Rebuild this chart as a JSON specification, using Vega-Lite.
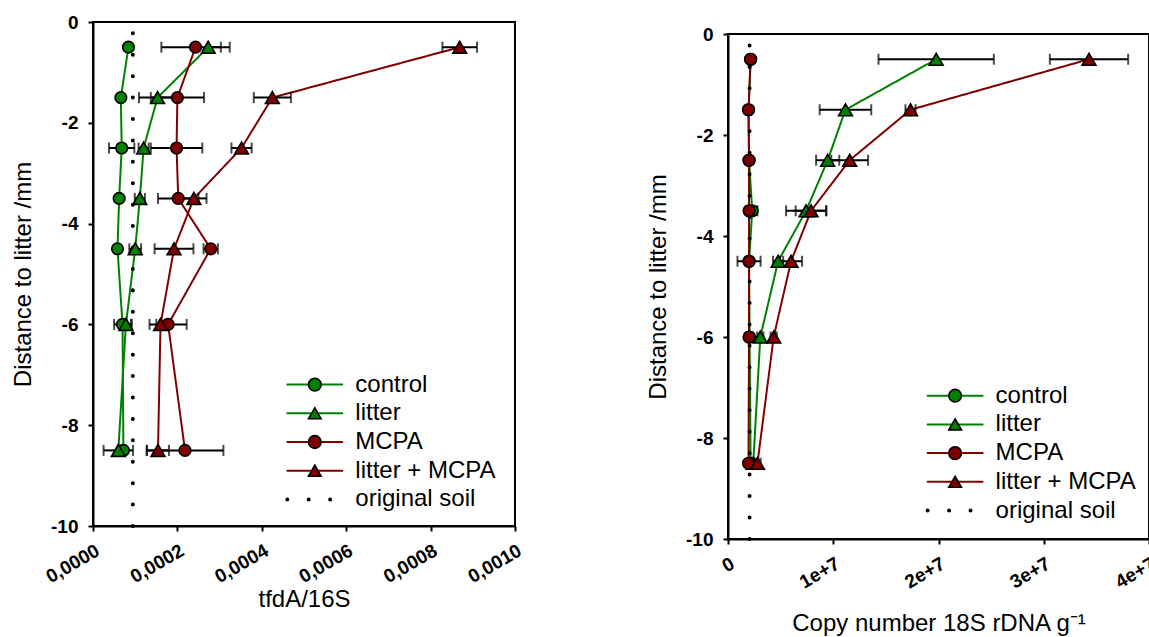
{
  "$schema": "https://vega.github.io/schema/vega-lite/v6.json",
  "background": "white",
  "padding": {"left": 10, "top": 12, "right": 0, "bottom": 0},
  "config": {
    "font": "Liberation Sans",
    "view": {"stroke": "black", "strokeWidth": 2},
    "axis": {
      "domainColor": "black", "domainWidth": 2, "tickColor": "black", "tickWidth": 2, "tickSize": 5,
      "grid": false, "labelFont": "Liberation Sans", "labelFontWeight": "bold", "labelFontSize": 19,
      "labelColor": "black", "labelPadding": 10, "titleFont": "Liberation Sans", "titleFontWeight": "normal",
      "titleFontSize": 24, "titleColor": "black"
    },
    "legend": {"labelFont": "Liberation Sans", "labelFontSize": 24, "labelColor": "black", "padding": 0, "rowPadding": 4.7},
    "concat": {"spacing": 119}
  },
  "resolve": {
    "scale": {"stroke": "independent", "strokeDash": "independent", "fill": "independent", "shape": "independent"},
    "legend": {"stroke": "independent", "strokeDash": "independent", "fill": "independent", "shape": "independent"}
  },
  "hconcat": [
    {
      "width": 422,
      "height": 504,
      "data": {"values": [
        {"series": "control", "depth": -0.5, "value": 0.000084, "err": 0.000003},
        {"series": "control", "depth": -1.5, "value": 0.000066, "err": 0.000003},
        {"series": "control", "depth": -2.5, "value": 0.000068, "err": 0.00003},
        {"series": "control", "depth": -3.5, "value": 0.000062, "err": 0.000004},
        {"series": "control", "depth": -4.5, "value": 0.000058, "err": 0.000004},
        {"series": "control", "depth": -6, "value": 0.00007, "err": 0.00002},
        {"series": "control", "depth": -8.5, "value": 0.000072, "err": 0.000005},
        {"series": "litter", "depth": -0.5, "value": 0.000273, "err": 0.00003},
        {"series": "litter", "depth": -1.5, "value": 0.000153, "err": 0.000044},
        {"series": "litter", "depth": -2.5, "value": 0.00012, "err": 0.000012},
        {"series": "litter", "depth": -3.5, "value": 0.000111, "err": 0.000012},
        {"series": "litter", "depth": -4.5, "value": 0.0001, "err": 0.000014},
        {"series": "litter", "depth": -6, "value": 0.000078, "err": 0.000014},
        {"series": "litter", "depth": -8.5, "value": 0.00006, "err": 0.000035},
        {"series": "MCPA", "depth": -0.5, "value": 0.000243, "err": 0.000081},
        {"series": "MCPA", "depth": -1.5, "value": 0.0002, "err": 0.000063},
        {"series": "MCPA", "depth": -2.5, "value": 0.000198, "err": 0.000061},
        {"series": "MCPA", "depth": -3.5, "value": 0.000202, "err": 0.000048},
        {"series": "MCPA", "depth": -4.5, "value": 0.000279, "err": 0.000017},
        {"series": "MCPA", "depth": -6, "value": 0.000178, "err": 0.000044},
        {"series": "MCPA", "depth": -8.5, "value": 0.000218, "err": 0.000091},
        {"series": "litter + MCPA", "depth": -0.5, "value": 0.000869, "err": 0.000041},
        {"series": "litter + MCPA", "depth": -1.5, "value": 0.000425, "err": 0.000044},
        {"series": "litter + MCPA", "depth": -2.5, "value": 0.000352, "err": 0.000024},
        {"series": "litter + MCPA", "depth": -3.5, "value": 0.000239, "err": 0.00003},
        {"series": "litter + MCPA", "depth": -4.5, "value": 0.000192, "err": 0.000046},
        {"series": "litter + MCPA", "depth": -6, "value": 0.00016, "err": 0.00001},
        {"series": "litter + MCPA", "depth": -8.5, "value": 0.000154, "err": 0.000026},
        {"series": "original soil", "depth": -10, "value": 0.0000944},
        {"series": "original soil", "depth": 0, "value": 0.0000944}
      ]},
      "encoding": {
        "x": {"field": "value", "type": "quantitative", "scale": {"domain": [0, 0.001], "nice": false},
          "axis": {"values": [0, 0.0002, 0.0004, 0.0006, 0.0008, 0.001], "labelExpr": "replace(format(datum.value, '.4f'), '.', ',')",
            "labelAngle": -30, "title": "tfdA/16S", "titlePadding": 1}},
        "y": {"field": "depth", "type": "quantitative", "scale": {"domain": [-10, 0], "nice": false},
          "axis": {"values": [0, -2, -4, -6, -8, -10], "labelExpr": "datum.value + ''", "title": "Distance to litter /mm", "titlePadding": 15}}
      },
      "layer": [
        {
          "mark": {"type": "line", "strokeCap": "round"},
          "encoding": {
            "order": {"field": "depth", "type": "quantitative"},
            "stroke": {"field": "series", "type": "nominal",
              "scale": {"domain": ["control", "litter", "MCPA", "litter + MCPA", "original soil"], "range": ["#008000", "#008000", "#800000", "#800000", "black"]},
              "legend": {"orient": "none", "legendX": 209.8, "legendY": 350.6, "title": null, "symbolType": "M-2.5,0L2.5,0", "symbolSize": 484,
                "symbolStrokeWidth": 2, "labelOffset": 28.5,
                "encoding": {"symbols": {"strokeCap": {"value": "round"}, "strokeWidth": {"value": {"expr": "datum.value === 'original soil' ? 4 : 2"}}}}}},
            "strokeDash": {"field": "series", "type": "nominal",
              "scale": {"domain": ["control", "litter", "MCPA", "litter + MCPA", "original soil"], "range": [[1, 0], [1, 0], [1, 0], [1, 0], [0.01, 21.41]]}},
            "strokeWidth": {"condition": {"test": "datum.series === 'original soil'", "value": 4}, "value": 2}
          }
        },
        {
          "transform": [{"filter": "datum.series !== 'original soil'"}],
          "mark": {"type": "errorbar", "color": "black", "thickness": 2, "ticks": {"size": 11, "thickness": 2, "color": "black"}},
          "encoding": {"xError": {"field": "err"}}
        },
        {
          "transform": [{"filter": "datum.series !== 'original soil'"}],
          "mark": {"type": "point", "filled": true, "opacity": 1, "stroke": "black", "strokeWidth": 1.6},
          "encoding": {
            "fill": {"field": "series", "type": "nominal",
              "scale": {"domain": ["control", "litter", "MCPA", "litter + MCPA"], "range": ["#008000", "#008000", "#800000", "#800000"]},
              "legend": {"orient": "none", "legendX": 209.8, "legendY": 350.6, "title": null, "symbolStrokeColor": "black", "symbolStrokeWidth": 1.6,
                "symbolSize": 160, "symbolOpacity": 1, "labelOpacity": 0, "labelOffset": 28.5}},
            "shape": {"field": "series", "type": "nominal",
              "scale": {"domain": ["control", "litter", "MCPA", "litter + MCPA"], "range": ["circle", "triangle-up", "circle", "triangle-up"]}},
            "size": {"condition": {"test": "datum.series === 'control' || datum.series === 'MCPA'", "value": 135}, "value": 190}
          }
        }
      ]
    },
    {
      "spacing": 0,
      "resolve": {
        "scale": {"stroke": "independent", "strokeDash": "independent", "fill": "independent", "shape": "independent"},
        "legend": {"stroke": "independent", "strokeDash": "independent", "fill": "independent", "shape": "independent"}
      },
      "vconcat": [
        {
          "width": 421,
          "height": 2,
          "view": {"stroke": null},
          "data": {"values": []},
          "mark": "point"
        },
        {
          "width": 421,
          "height": 505,
          "data": {"values": [
            {"series": "control", "depth": -0.5, "value": 2150000, "err": 150000},
            {"series": "control", "depth": -1.5, "value": 1950000, "err": 150000},
            {"series": "control", "depth": -2.5, "value": 2000000, "err": 150000},
            {"series": "control", "depth": -3.5, "value": 2300000, "err": 500000},
            {"series": "control", "depth": -4.5, "value": 2000000, "err": 1100000},
            {"series": "control", "depth": -6, "value": 2050000, "err": 300000},
            {"series": "control", "depth": -8.5, "value": 2150000, "err": 200000},
            {"series": "litter", "depth": -0.5, "value": 19780000, "err": 5480000},
            {"series": "litter", "depth": -1.5, "value": 11160000, "err": 2450000},
            {"series": "litter", "depth": -2.5, "value": 9470000, "err": 1100000},
            {"series": "litter", "depth": -3.5, "value": 7420000, "err": 1900000},
            {"series": "litter", "depth": -4.5, "value": 4760000, "err": 480000},
            {"series": "litter", "depth": -6, "value": 3070000, "err": 300000},
            {"series": "litter", "depth": -8.5, "value": 2400000, "err": 200000},
            {"series": "MCPA", "depth": -0.5, "value": 2150000, "err": 150000},
            {"series": "MCPA", "depth": -1.5, "value": 1950000, "err": 150000},
            {"series": "MCPA", "depth": -2.5, "value": 2000000, "err": 150000},
            {"series": "MCPA", "depth": -3.5, "value": 2000000, "err": 200000},
            {"series": "MCPA", "depth": -4.5, "value": 2000000, "err": 300000},
            {"series": "MCPA", "depth": -6, "value": 2000000, "err": 200000},
            {"series": "MCPA", "depth": -8.5, "value": 1950000, "err": 150000},
            {"series": "litter + MCPA", "depth": -0.5, "value": 34300000, "err": 3720000},
            {"series": "litter + MCPA", "depth": -1.5, "value": 17340000, "err": 480000},
            {"series": "litter + MCPA", "depth": -2.5, "value": 11560000, "err": 1750000},
            {"series": "litter + MCPA", "depth": -3.5, "value": 7890000, "err": 1460000},
            {"series": "litter + MCPA", "depth": -4.5, "value": 5990000, "err": 1050000},
            {"series": "litter + MCPA", "depth": -6, "value": 4340000, "err": 300000},
            {"series": "litter + MCPA", "depth": -8.5, "value": 2800000, "err": 300000},
            {"series": "original soil", "depth": -10, "value": 2050000},
            {"series": "original soil", "depth": 0, "value": 2050000}
          ]},
          "encoding": {
            "x": {"field": "value", "type": "quantitative", "scale": {"domain": [0, 40000000], "nice": false},
              "axis": {"values": [0, 10000000, 20000000, 30000000, 40000000], "labelExpr": "datum.value == 0 ? '0' : (datum.value / 10000000) + 'e+7'",
                "labelAngle": -30, "title": "Copy number 18S rDNA g⁻¹", "titlePadding": 20}},
            "y": {"field": "depth", "type": "quantitative", "scale": {"domain": [-10, 0], "nice": false},
              "axis": {"values": [0, -2, -4, -6, -8, -10], "labelExpr": "datum.value + ''", "title": "Distance to litter /mm", "titlePadding": 15}}
          },
          "layer": [
            {
              "mark": {"type": "line", "strokeCap": "round"},
              "encoding": {
                "order": {"field": "depth", "type": "quantitative"},
                "stroke": {"field": "series", "type": "nominal",
                  "scale": {"domain": ["control", "litter", "MCPA", "litter + MCPA", "original soil"], "range": ["#008000", "#008000", "#800000", "#800000", "black"]},
                  "legend": {"orient": "none", "legendX": 215.1, "legendY": 349.7, "title": null, "symbolType": "M-2.5,0L2.5,0", "symbolSize": 484,
                    "symbolStrokeWidth": 2, "labelOffset": 28.5,
                    "encoding": {"symbols": {"strokeCap": {"value": "round"}, "strokeWidth": {"value": {"expr": "datum.value === 'original soil' ? 4 : 2"}}}}}},
                "strokeDash": {"field": "series", "type": "nominal",
                  "scale": {"domain": ["control", "litter", "MCPA", "litter + MCPA", "original soil"], "range": [[1, 0], [1, 0], [1, 0], [1, 0], [0.01, 21.45]]}},
                "strokeWidth": {"condition": {"test": "datum.series === 'original soil'", "value": 4}, "value": 2}
              }
            },
            {
              "transform": [{"filter": "datum.series !== 'original soil'"}],
              "mark": {"type": "errorbar", "color": "black", "thickness": 2, "ticks": {"size": 11, "thickness": 2, "color": "black"}},
              "encoding": {"xError": {"field": "err"}}
            },
            {
              "transform": [{"filter": "datum.series !== 'original soil'"}],
              "mark": {"type": "point", "filled": true, "opacity": 1, "stroke": "black", "strokeWidth": 1.6},
              "encoding": {
                "fill": {"field": "series", "type": "nominal",
                  "scale": {"domain": ["control", "litter", "MCPA", "litter + MCPA"], "range": ["#008000", "#008000", "#800000", "#800000"]},
                  "legend": {"orient": "none", "legendX": 215.1, "legendY": 349.7, "title": null, "symbolStrokeColor": "black", "symbolStrokeWidth": 1.6,
                    "symbolSize": 160, "symbolOpacity": 1, "labelOpacity": 0, "labelOffset": 28.5}},
                "shape": {"field": "series", "type": "nominal",
                  "scale": {"domain": ["control", "litter", "MCPA", "litter + MCPA"], "range": ["circle", "triangle-up", "circle", "triangle-up"]}},
                "size": {"condition": {"test": "datum.series === 'control' || datum.series === 'MCPA'", "value": 135}, "value": 190}
              }
            }
          ]
        }
      ]
    }
  ]
}
